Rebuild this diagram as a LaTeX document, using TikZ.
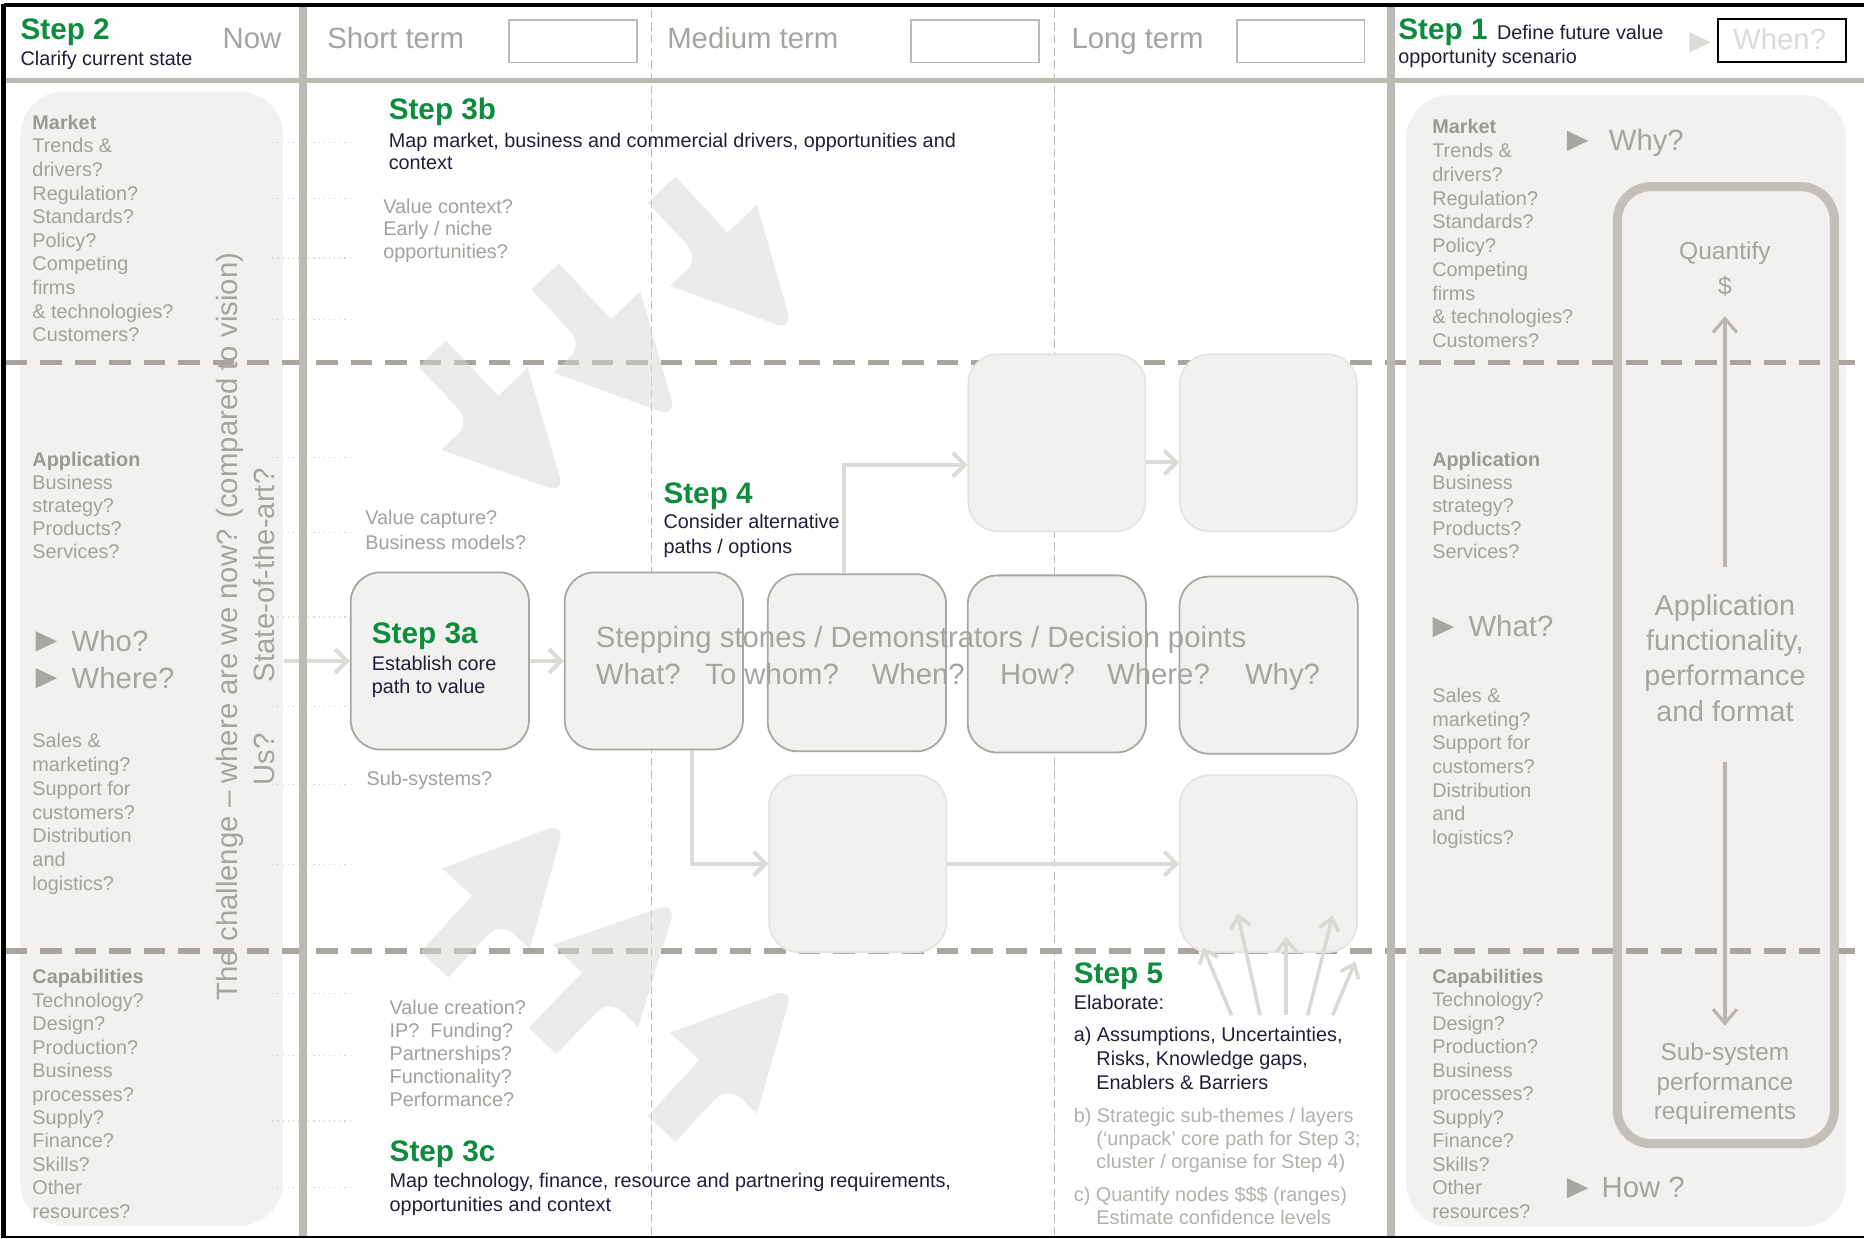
\documentclass[tikz,border=0pt]{standalone}
\usepackage{fontspec}
\setmainfont{Liberation Sans}
\usetikzlibrary{arrows.meta}
\definecolor{grn}{HTML}{0F8B3D}
\definecolor{ink}{HTML}{1F1F3A}
\definecolor{gtxt}{HTML}{A3A19C}
\definecolor{gbold}{HTML}{9B9994}
\definecolor{gbig}{HTML}{A6A4A0}
\definecolor{glight}{HTML}{B3B1AC}
\definecolor{panelc}{HTML}{F2F1EF}
\definecolor{rulec}{HTML}{BDBAB3}
\definecolor{dashc}{HTML}{A8A59E}
\definecolor{vdashc}{HTML}{BEBCB6}
\definecolor{stoneb}{HTML}{A9A7A1}
\definecolor{faintb}{HTML}{E4E3E0}
\definecolor{connc}{HTML}{DCDBD7}
\definecolor{arrc}{HTML}{DAD9D5}
\definecolor{loopc}{HTML}{C3C0B9}
\definecolor{loopa}{HTML}{B9B6AF}
\definecolor{whenc}{HTML}{DCDBD7}
\definecolor{tric}{HTML}{A8A6A1}
\definecolor{dotc}{HTML}{D9D7D2}
\definecolor{hboxc}{HTML}{BAB8B2}

% big stubby block arrow, tip at (#1,#2), rotated by #3
\newcommand\bigarw[3]{%
  \begin{scope}[shift={(#1,#2)},rotate=#3]
    \fill[barr] (-162,-16) -- (-98,-16) -- (-98,-50) [rounded corners=9pt] -- (0,0)
      [sharp corners] -- (-98,50) [rounded corners=9pt] -- (-98,16) [sharp corners] -- (-162,16) -- cycle;
  \end{scope}}

\begin{document}
\begin{tikzpicture}[x=0.6pt,y=-0.6pt,
  sm/.style={font=\fontsize{10}{12}\selectfont, text=gtxt, inner sep=0pt, anchor=base west},
  smb/.style={sm, font=\fontsize{10}{12}\selectfont\bfseries, text=gbold},
  lgt/.style={sm, text=glight},
  dk/.style={sm, text=ink},
  big/.style={font=\fontsize{14.8}{17}\selectfont, text=gbig, inner sep=0pt, anchor=base west},
  stp/.style={font=\fontsize{15}{18}\selectfont\bfseries, text=grn, inner sep=0pt, anchor=base west},
  stone/.style={draw=stoneb, line width=0.9pt, fill=panelc, rounded corners=15pt,
    minimum width=90pt, minimum height=89.4pt, inner sep=0pt},
  faint/.style={draw=faintb, line width=0.8pt, fill=panelc, rounded corners=15pt,
    minimum width=89.4pt, minimum height=89.4pt, inner sep=0pt},
  hbox/.style={draw=hboxc, line width=0.9pt, fill=white, minimum width=64.5pt,
    minimum height=21.6pt, inner sep=0pt},
  conn/.style={draw=connc, line width=2pt, -{Straight Barb[length=6pt,width=12pt,line width=2pt]}},
  fan/.style={draw=arrc, line width=1.8pt, -{Straight Barb[length=6pt,width=10pt,line width=1.8pt]}},
  looparr/.style={draw=loopa, line width=1.6pt, -{Straight Barb[length=7pt,width=12pt,line width=1.6pt]}},
  barr/.style={fill=arrc, fill opacity=0.5},
  tri/.style={fill=tric},
  dotl/.style={draw=dotc, dotted, line width=0.6pt},
  hdash/.style={draw=dashc, line width=2.7pt, dash pattern=on 10.8pt off 6.6pt},
  vdash/.style={draw=vdashc, line width=0.7pt, dash pattern=on 4.2pt off 2.2pt},
  thick rule/.style={draw=rulec, line width=3.8pt},
]
\useasboundingbox (0,0) rectangle (1568,1042);
\fill[white] (0,0) rectangle (1568,1042);

% side panels
\fill[panelc, rounded corners=22pt] (17,77) rectangle (238,1031);
\fill[panelc, rounded corners=22pt] (1183,80) rectangle (1553,1032);

% faint dotted guide ticks next to the left panel
\foreach \yy in {120,167,217,269,385,448,519,594,660,727,836,888,943,999}
  \draw[dotl] (229,\yy) -- (297,\yy);

% time-column separators and layer separators
\draw[vdash] (548,8) -- (548,1040);
\draw[vdash] (887,8) -- (887,1040);
\draw[hdash] (5,305) -- (1566,305);
\draw[hdash] (5,800) -- (1566,800);

% right-hand loop
\draw[draw=loopc, line width=4.6pt, rounded corners=17pt] (1360.5,157) rectangle (1543,962);

% path nodes
\node[stone] (s3a) at (370,556) {};
\node[stone] (st2) at (550,556) {};
\node[stone] (st3) at (720.8,557.5) {};
\node[stone] (st4) at (889,558.5) {};
\node[stone] (st5) at (1067.2,559.5) {};
\node[faint] (top1) at (889,372.5) {};
\node[faint] (top2) at (1067,372.5) {};
\node[faint] (bot1) at (721.5,726.5) {};
\node[faint] (bot2) at (1067,726.5) {};

% entry arrow into the core path
\coordinate (inL) at (239,556);
\draw[conn] (inL) -- (s3a.west);

% frame rules
\draw[thick rule, line width=2.7pt] (5,67.5) -- (1568,67.5);
\draw[thick rule] (255,5) -- (255,1040);
\draw[thick rule] (1170,5) -- (1170,1040);
\draw[black, line width=2.4pt] (3,4.2) -- (1568,4.2);
\draw[black, line width=2.8pt] (3,3) -- (3,1041);
\draw[black, line width=1.2pt] (3,1040.3) -- (1568,1040.3);

% connectors between path nodes
\draw[conn] (s3a.east) -- (st2.west);
\coordinate (j1) at (710.3,391);
\draw[conn] (j1 |- st3.north) -- (j1) -- (j1 -| top1.west);
\coordinate (r1) at (0,389);
\draw[conn] (top1.east |- r1) -- (top2.west |- r1);
\coordinate (j2) at (582,727);
\draw[conn] (j2 |- st2.south) |- (bot1.west);
\draw[conn] (bot1.east) -- (bot2.west);

% elaboration fan
\coordinate (fa1) at (1036,854); \coordinate (fb1) at (1012,797);
\coordinate (fa2) at (1060,854); \coordinate (fb2) at (1041,768);
\coordinate (fa3) at (1082,854); \coordinate (fb3) at (1082,788);
\coordinate (fa4) at (1100,854); \coordinate (fb4) at (1121,770);
\coordinate (fa5) at (1121,854); \coordinate (fb5) at (1140,809);
\foreach \k in {1,...,5} \draw[fan] (fa\k) -- (fb\k);

% big inflow arrows
\bigarw{667}{278}{-47}
\bigarw{569}{351}{-47}
\bigarw{475}{415}{-46.5}
\bigarw{475}{692}{47.5}
\bigarw{569}{759}{46}
\bigarw{667}{831}{47}

% header
\node[hbox] (bshort) at (482,34.5) {};
\node[hbox] (bmed) at (820,34.5) {};
\node[hbox] (blong) at (1094,34.5) {};
\node[hbox, draw=black, line width=1.2pt] (bwhen) at (1499,34) {};
\node[stp] (s2t) at (17,33) {Step 2};
\node[dk] (s2d) at (17,55) {Clarify current state};
\node[big] (now) at (187,41) {Now};
\node[big] (shortt) at (275,41) {Short term};
\node[big] (medt) at (561,41) {Medium term};
\node[big] (longt) at (901,41) {Long term};
\node[stp] (s1t) at (1176,33) {Step 1};
\node[dk] (s1d) at (1259,33) {Define future value};
\node[dk] (s1e) at (1176,53) {opportunity scenario};
\fill[whenc] (1421,27) -- (1439,35.5) -- (1421,44) -- cycle;
\node[big, text=whenc, anchor=base] (whent) at (1497,42) {When?};

% left column
\node[smb] (lmk) at (27,108.8) {Market};
\foreach \t [count=\i] in {Trends \&,drivers?,Regulation?,Standards?,Policy?,Competing,firms,\& technologies?,Customers?}
  \node[sm] (lm\i) at (27,108.8+19.84*\i) {\t};
\node[smb] (lap) at (27,392.6) {Application};
\foreach \t [count=\i] in {Business,strategy?,Products?,Services?}
  \node[sm] (la\i) at (27,392.6+19.3*\i) {\t};
\fill[tri] (30,531) -- (48,539.5) -- (30,548) -- cycle;
\fill[tri] (30,562) -- (48,570.5) -- (30,579) -- cycle;
\node[big] (who) at (60,548) {Who?};
\node[big] (where) at (60,579) {Where?};
\foreach \t [count=\i from 0] in {Sales \&,marketing?,Support for,customers?,Distribution,and,logistics?}
  \node[sm] (ls\i) at (27,629+20*\i) {\t};
\node[smb] (lcap) at (27,827.5) {Capabilities};
\foreach \t [count=\i] in {Technology?,Design?,Production?,Business,processes?,Supply?,Finance?,Skills?,Other,resources?}
  \node[sm] (lc\i) at (27,827.5+19.73*\i) {\t};
\node[big, rotate=90, anchor=base] (chal) at (200,527) {The challenge – where are we now? (compared to vision)};
\node[big, rotate=90, anchor=base] (sota) at (231,484) {State-of-the-art?};
\node[big, rotate=90, anchor=base] (us) at (231,639) {Us?};

% right column
\node[smb] (rmk) at (1204.5,112.5) {Market};
\foreach \t [count=\i] in {Trends \&,drivers?,Regulation?,Standards?,Policy?,Competing,firms,\& technologies?,Customers?}
  \node[sm] (rm\i) at (1204.5,112.5+20*\i) {\t};
\fill[tri] (1318,110) -- (1336,118.5) -- (1318,127) -- cycle;
\node[big] (why) at (1353,126.5) {Why?};
\node[smb] (rap) at (1204.5,392.6) {Application};
\foreach \t [count=\i] in {Business,strategy?,Products?,Services?}
  \node[sm] (ra\i) at (1204.5,392.6+19.3*\i) {\t};
\fill[tri] (1205,519) -- (1223,527.5) -- (1205,536) -- cycle;
\node[big] (what) at (1235,535.5) {What?};
\foreach \t [count=\i from 0] in {Sales \&,marketing?,Support for,customers?,Distribution,and,logistics?}
  \node[sm] (rs\i) at (1204.5,591+19.9*\i) {\t};
\node[smb] (rcap) at (1204.5,827) {Capabilities};
\foreach \t [count=\i] in {Technology?,Design?,Production?,Business,processes?,Supply?,Finance?,Skills?,Other,resources?}
  \node[sm] (rc\i) at (1204.5,827+19.77*\i) {\t};
\fill[tri] (1318,991) -- (1336,999.5) -- (1318,1008) -- cycle;
\node[big] (how) at (1347,1007) {How ?};

% loop contents
\node[big, font=\fontsize{12.4}{15}\selectfont, anchor=base] (quant) at (1451,218) {Quantify};
\node[big, font=\fontsize{12.4}{15}\selectfont, anchor=base] (dollar) at (1451,247.5) {\$};
\coordinate (upa) at (1451,476.6); \coordinate (upb) at (1451,266);
\draw[looparr] (upa) -- (upb);
\foreach \t [count=\i from 0] in {Application,{functionality,},performance,and format}
  \node[big, font=\fontsize{14.5}{17}\selectfont, anchor=base] (afp\i) at (1451,518+29.5*\i) {\t};
\coordinate (dna) at (1451,640.7); \coordinate (dnb) at (1451,862.7);
\draw[looparr] (dna) -- (dnb);
\foreach \t [count=\i from 0] in {Sub-system,performance,requirements}
  \node[big, font=\fontsize{12.3}{15}\selectfont, anchor=base] (ssr\i) at (1451,892+25*\i) {\t};

% step 3b
\node[stp] (s3b) at (326.7,100.4) {Step 3b};
\node[dk] (s3b1) at (326.7,124) {Map market, business and commercial drivers, opportunities and};
\node[dk] (s3b2) at (326.7,143) {context};
\node[sm] (vc1) at (322.2,179.5) {Value context?};
\node[sm] (vc2) at (322.2,198.5) {Early / niche};
\node[sm] (vc3) at (322.2,217.3) {opportunities?};
\node[sm] (cap1) at (307,441.6) {Value capture?};
\node[sm] (cap2) at (307,462) {Business models?};

% step 3a
\node[stp] (s3at) at (312.5,541) {Step 3a};
\node[dk] (s3a1) at (312.5,563.6) {Establish core};
\node[dk] (s3a2) at (312.5,583) {path to value};
\node[sm] (subs) at (308,660.6) {Sub-systems?};

% step 4
\node[stp] (s4t) at (557.8,423.4) {Step 4};
\node[dk] (s41) at (557.8,444.5) {Consider alternative};
\node[dk] (s42) at (557.8,465.4) {paths / options};

% stepping stones captions
\node[big] (sstones) at (501,545) {Stepping stones / Demonstrators / Decision points};
\node[big] (qw1) at (501,576) {What?};
\node[big] (qw2) at (593,576) {To whom?};
\node[big] (qw3) at (733,576) {When?};
\node[big] (qw4) at (841,576) {How?};
\node[big] (qw5) at (931,576) {Where?};
\node[big] (qw6) at (1047,576) {Why?};

% step 3c
\foreach \t [count=\i from 0] in {Value creation?,IP?~ Funding?,Partnerships?,Functionality?,Performance?}
  \node[sm] (vcr\i) at (327.5,853+19.35*\i) {\t};
\node[stp] (s3c) at (327.5,977.2) {Step 3c};
\node[dk] (s3c1) at (327.5,998.8) {Map technology, finance, resource and partnering requirements,};
\node[dk] (s3c2) at (327.5,1019.2) {opportunities and context};

% step 5
\node[stp] (s5t) at (903,827) {Step 5};
\node[dk] (s5e) at (903,849) {Elaborate:};
\node[dk] (s5a1) at (903,876.2) {a) Assumptions, Uncertainties,};
\node[dk] (s5a2) at (922,895.9) {Risks, Knowledge gaps,};
\node[dk] (s5a3) at (922,916.3) {Enablers \& Barriers};
\node[lgt] (s5b1) at (903,944.4) {b) Strategic sub-themes / layers};
\node[lgt] (s5b2) at (922,964) {(`unpack' core path for Step 3;};
\node[lgt] (s5b3) at (922,982.8) {cluster / organise for Step 4)};
\node[lgt] (s5c1) at (903,1010.8) {c) Quantify nodes \$\$\$ (ranges)};
\node[lgt] (s5c2) at (922,1030.4) {Estimate confidence levels};
\end{tikzpicture}
\end{document}
